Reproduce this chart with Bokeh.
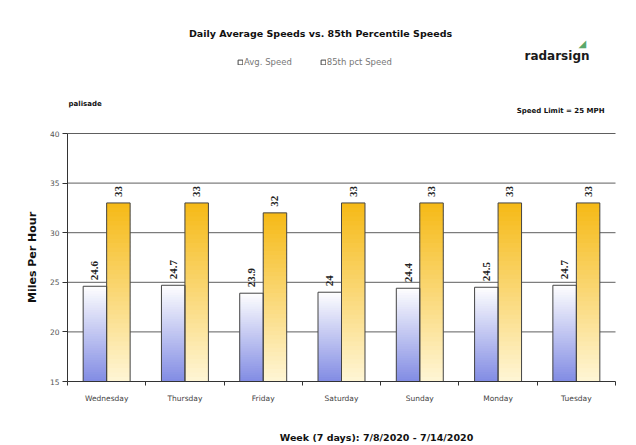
import numpy as np
from bokeh.plotting import figure
from bokeh.models import (Range1d, FixedTicker, Label, Legend, LegendItem,
                          ColumnDataSource)
from bokeh.core.properties import value
from bokeh.embed import file_html
from bokeh.resources import INLINE

days = ["Wednesday", "Thursday", "Friday", "Saturday", "Sunday", "Monday", "Tuesday"]
avg_speed = [24.6, 24.7, 23.9, 24.0, 24.4, 24.5, 24.7]
p85_speed = [33, 33, 32, 33, 33, 33, 33]
avg_text = ["24.6", "24.7", "23.9", "24", "24.4", "24.5", "24.7"]
p85_text = ["33", "33", "32", "33", "33", "33", "33"]
y_ticks = [15, 20, 25, 30, 35, 40]
series_names = ["Avg. Speed", "85th pct Speed"]

# ---- layout: whole canvas is the frame; plot area placed via ranges ----
W, H = 636, 445
PL, PR, PT, PB = 67, 615, 133, 381          # plot-area pixel box
Y0, Y1 = y_ticks[0], y_ticks[-1]
N = len(days)
xs_per_px = N / (PR - PL)
ys_per_px = (Y1 - Y0) / (PB - PT)
x_range = Range1d(-PL * xs_per_px, N + (W - PR) * xs_per_px)
y_range = Range1d(Y0 - (H - PB) * ys_per_px, Y1 + PT * ys_per_px)

p = figure(width=W, height=H, output_backend="svg", toolbar_location=None,
           x_range=x_range, y_range=y_range, min_border=0)
p.title.visible = False
p.outline_line_color = None
p.background_fill_color = "white"
p.border_fill_color = "white"
p.xgrid.visible = False
p.ygrid.visible = False

# gridlines (behind bars)
p.segment(x0=0, x1=N, y0=y_ticks[1:], y1=y_ticks[1:], line_color="#5e5e5e",
          line_width=1)

idx = np.arange(N)
x_avg = idx + 0.5 - 0.15
x_p85 = idx + 0.5 + 0.15
BW = 0.30


def gradient_bars(xs, vals, top_rgb, bot_rgb, n=40):
    xx, bb, tt, cc = [], [], [], []
    for x, v in zip(xs, vals):
        for k in range(n):
            f0 = k / n
            f1 = (k + 1) / n
            fm = (f0 + f1) / 2  # 0 bottom -> 1 top
            r = int(bot_rgb[0] + (top_rgb[0] - bot_rgb[0]) * fm)
            g = int(bot_rgb[1] + (top_rgb[1] - bot_rgb[1]) * fm)
            b = int(bot_rgb[2] + (top_rgb[2] - bot_rgb[2]) * fm)
            xx.append(x)
            bb.append(Y0 + (v - Y0) * f0)
            tt.append(min(v, Y0 + (v - Y0) * f1 + 0.2))
            cc.append("#%02x%02x%02x" % (r, g, b))
    src = ColumnDataSource(dict(x=xx, bottom=bb, top=tt, color=cc))
    p.vbar(x="x", bottom="bottom", top="top", width=BW, source=src,
           fill_color="color", line_color=None)


gradient_bars(x_avg, avg_speed, (255, 255, 255), (130, 140, 228))
gradient_bars(x_p85, p85_speed, (246, 186, 22), (255, 246, 214))

r_avg = p.vbar(x=x_avg, bottom=Y0, top=avg_speed, width=BW, fill_color=None,
               line_color="#444444", line_width=1)
r_p85 = p.vbar(x=x_p85, bottom=Y0, top=p85_speed, width=BW, fill_color=None,
               line_color="#444444", line_width=1)

lbl_font = value("Liberation Serif")
for xs, vals, txt in ((x_avg, avg_speed, avg_text), (x_p85, p85_speed, p85_text)):
    p.text(x=xs, y=vals, text=txt, angle=np.pi / 2, text_align="left",
           text_baseline="middle", y_offset=-6, text_font=lbl_font,
           text_font_size="11px", text_font_style="bold", text_color="#222222")

legend = Legend(items=[LegendItem(label=series_names[0], renderers=[r_avg]),
                       LegendItem(label=series_names[1], renderers=[r_p85])],
                orientation="horizontal", location=(237, H - 67),
                padding=0, margin=0, spacing=28, glyph_width=6, glyph_height=6,
                label_height=8, label_standoff=1,
                label_text_font="DejaVu Sans", label_text_font_size="8.5px",
                label_text_color="#777777", border_line_color=None,
                background_fill_alpha=0)
p.add_layout(legend, "center")

# axes, drawn at the plot-area edges
p.yaxis.fixed_location = 0
p.yaxis.bounds = (Y0, Y1)
p.yaxis.ticker = FixedTicker(ticks=y_ticks)
p.yaxis.major_tick_in = 0
p.yaxis.major_tick_out = 5
p.yaxis.minor_tick_line_color = None
p.yaxis.axis_line_color = "#333333"
p.yaxis.major_tick_line_color = "#333333"
p.yaxis.major_label_text_font = "DejaVu Sans"
p.yaxis.major_label_text_font_size = "7.5px"
p.yaxis.major_label_text_color = "#555555"
p.yaxis.major_label_standoff = 3
p.yaxis.axis_label = "Miles Per Hour"
p.yaxis.axis_label_text_font = "DejaVu Sans"
p.yaxis.axis_label_text_font_style = "bold"
p.yaxis.axis_label_text_font_size = "11px"
p.yaxis.axis_label_text_color = "#111111"
p.yaxis.axis_label_standoff = 8

centers = [i + 0.5 for i in range(N)]
p.xaxis.fixed_location = Y0
p.xaxis.bounds = (0, N)
p.xaxis.ticker = FixedTicker(ticks=centers, minor_ticks=list(range(N + 1)))
p.xaxis.major_label_overrides = {c: d for c, d in zip(centers, days)}
p.xaxis.major_tick_line_color = None
p.xaxis.major_tick_in = 0
p.xaxis.major_tick_out = 0
p.xaxis.minor_tick_in = 0
p.xaxis.minor_tick_out = 4
p.xaxis.minor_tick_line_color = "#333333"
p.xaxis.axis_line_color = "#333333"
p.xaxis.major_label_text_font = "DejaVu Sans"
p.xaxis.major_label_text_font_size = "7.5px"
p.xaxis.major_label_text_color = "#444444"
p.xaxis.major_label_standoff = 8


def add_label(x, y, text, size, bold=True, color="#111111", font="DejaVu Sans",
              align="left"):
    p.add_layout(Label(x=x, y=y, x_units="canvas", y_units="canvas", text=text,
                       text_font=font, text_font_size=size,
                       text_font_style="bold" if bold else "normal",
                       text_color=color, text_align=align,
                       text_baseline="middle"))


add_label(320, 33, "Daily Average Speeds vs. 85th Percentile Speeds", "9.5px",
          align="center")
add_label(68, 103, "palisade", "7px")
add_label(604, 110, "Speed Limit = 25 MPH", "7px", align="right")
add_label(376, 437, "Week (7 days): 7/8/2020 - 7/14/2020", "9.5px",
          align="center")
add_label(524, 55, "radarsign", "12px", color="#1a1a1a")
add_label(578, 43, "\u25E2", "10px", bold=False, color="#5aa86a")

open("out.html", "w").write(file_html(p, INLINE))
